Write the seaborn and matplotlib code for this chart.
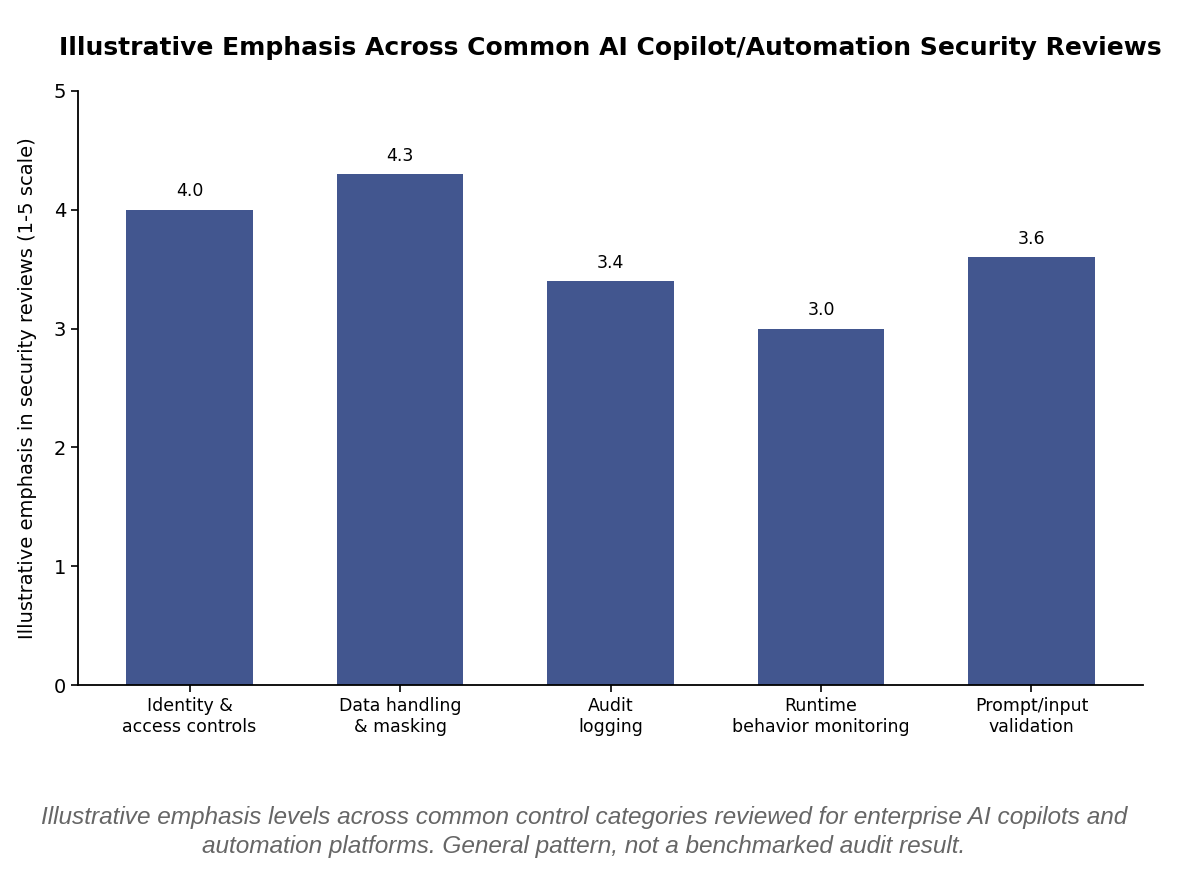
import matplotlib
matplotlib.use('Agg')
import matplotlib.pyplot as plt
import seaborn as sns
import pandas as pd

categories = ['Identity &\naccess controls', 'Data handling\n& masking', 'Audit\nlogging',
              'Runtime\nbehavior monitoring', 'Prompt/input\nvalidation']
scores = [4.0, 4.3, 3.4, 3.0, 3.6]
yticks = [0, 1, 2, 3, 4, 5]

df = pd.DataFrame({'category': categories, 'score': scores})

sns.set_style('ticks')
plt.rcParams['font.family'] = ['DejaVu Sans']
plt.rcParams['text.color'] = 'black'
plt.rcParams['axes.labelcolor'] = 'black'
plt.rcParams['xtick.color'] = 'black'
plt.rcParams['ytick.color'] = 'black'

fig = plt.figure(figsize=(11.95, 8.8), dpi=100)
ax = fig.add_axes([78 / 1195, 1 - 685 / 880, (1143 - 78) / 1195, (685 - 91) / 880])

sns.barplot(data=df, x='category', y='score', color='#42568F', saturation=1,
            width=0.6, linewidth=0, ax=ax)

# value labels above bars
for i, v in enumerate(scores):
    ax.text(i, v + 0.08, f'{v:.1f}', ha='center', va='bottom', fontsize=12.5)

ax.set_xlim(-0.53, 4.53)
ax.set_ylim(0, 5)
ax.set_yticks(yticks)
ax.tick_params(axis='y', labelsize=14, width=1.2, length=5)
ax.tick_params(axis='x', labelsize=12.5, width=1.2, length=5)
ax.set_xlabel('')
ax.set_ylabel('Illustrative emphasis in security reviews (1-5 scale)', fontsize=14, labelpad=12)
for s in ['left', 'bottom']:
    ax.spines[s].set_linewidth(1.3)
    ax.spines[s].set_color('black')
sns.despine(ax=ax)

fig.text(610 / 1195, 1 - 48 / 880,
         'Illustrative Emphasis Across Common AI Copilot/Automation Security Reviews',
         ha='center', va='center', fontsize=18, fontweight='bold')

fig.text(584 / 1195, 1 - 832 / 880,
         'Illustrative emphasis levels across common control categories reviewed for enterprise AI copilots and\n'
         'automation platforms. General pattern, not a benchmarked audit result.',
         ha='center', va='center', fontsize=17.6, style='italic', color='#666666',
         family=['Liberation Sans', 'DejaVu Sans'], linespacing=1.3)

fig.savefig('out.png', dpi=100)
